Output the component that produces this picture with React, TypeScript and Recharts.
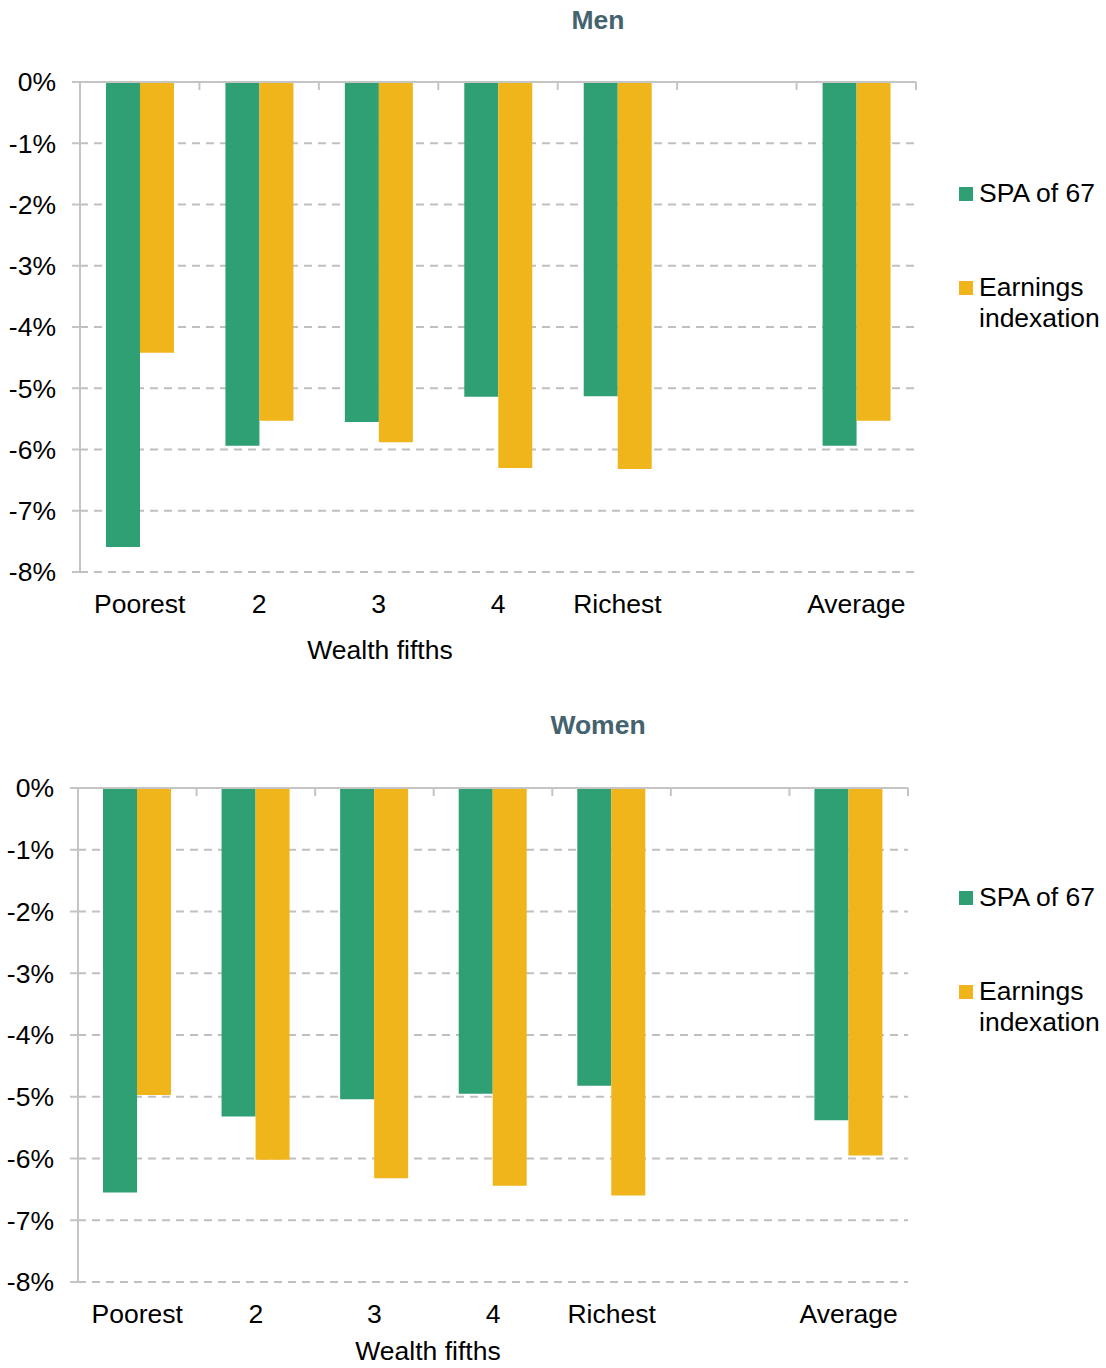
import React from "react";
import { BarChart, Bar, XAxis, YAxis, CartesianGrid, Legend } from "recharts";

const categories = ["Poorest", "2", "3", "4", "Richest", "", "Average"];
const menSpa = [-7.59, -5.94, -5.55, -5.14, -5.13, null, -5.94];
const menEarnings = [-4.42, -5.53, -5.88, -6.3, -6.32, null, -5.53];
const womenSpa = [-6.55, -5.32, -5.04, -4.95, -4.82, null, -5.38];
const womenEarnings = [-4.97, -6.02, -6.32, -6.44, -6.6, null, -5.95];
const yTicks = [0, -1, -2, -3, -4, -5, -6, -7, -8];
const seriesNames = ["SPA of 67", "Earnings indexation"];
const xAxisTitle = "Wealth fifths";

const GREEN = "#2f9f74";
const ORANGE = "#f0b51a";
const AXIS = "#c4c4c4";
const GRID = "#c0c0c0";
const TITLE = "#44636f";
const FONT = "'Liberation Sans', Arial, Helvetica, sans-serif";
const FS = 26.5;

const buildRows = (spa: (number | null)[], earn: (number | null)[]) =>
  categories.map((c, i) => ({ cat: c, spa: spa[i], earn: earn[i] }));

const TopTick = (props: any) => {
  const { x, y, payload, index, visibleTicksCount } = props;
  const off = payload && typeof payload.offset === "number" ? payload.offset : 59.5;
  const last = index === (visibleTicksCount ?? 7) - 1;
  return (
    <g>
      <line x1={x - off} x2={x - off} y1={y} y2={y + 8} stroke={AXIS} strokeWidth={2} />
      {last && <line x1={x + off} x2={x + off} y1={y} y2={y + 8} stroke={AXIS} strokeWidth={2} />}
    </g>
  );
};

const LegendContent = (props: any) => {
  const items = [...(props.payload || [])].sort(
    (a: any, b: any) => seriesNames.indexOf(a.value) - seriesNames.indexOf(b.value)
  );
  return (
    <div style={{ fontFamily: FONT, fontSize: FS, color: "#000" }}>
      {items.map((p: any, i: number) => (
        <div
          key={i}
          style={{ display: "flex", alignItems: "flex-start", marginTop: i === 0 ? 0 : 63, lineHeight: "31px" }}
        >
          <div style={{ width: 14, height: 14, background: p.color, marginTop: 9, marginRight: 6, flex: "none" }} />
          <div style={{ width: 126 }}>{p.value}</div>
        </div>
      ))}
    </div>
  );
};

type PanelProps = {
  top: number;
  title: string;
  titleTop: number;
  spa: (number | null)[];
  earn: (number | null)[];
  left: number;
  right: number;
  plotHeight: number;
  legendTop: number;
  axisTitleX: number;
  axisTitleTop: number;
  height: number;
};

const Panel = (p: PanelProps) => {
  const data = buildRows(p.spa, p.earn);
  const xAxisHeight = 60;
  const topAxisHeight = 1;
  const plotTop = 82;
  const bottomMargin = p.height - plotTop - p.plotHeight - xAxisHeight;
  return (
    <div style={{ position: "absolute", left: 0, top: p.top, width: 1106, height: p.height }}>
      <div
        style={{
          position: "absolute",
          left: 0,
          width: 1196,
          top: p.titleTop,
          textAlign: "center",
          fontFamily: FONT,
          fontWeight: "bold",
          fontSize: FS,
          lineHeight: "31px",
          color: TITLE,
          zIndex: 2,
        }}
      >
        {p.title}
      </div>
      <BarChart
        width={1106}
        height={p.height}
        data={data}
        margin={{ top: plotTop - topAxisHeight, right: 1106 - p.right, left: 0, bottom: bottomMargin }}
        barGap={0}
        barSize={34}
        style={{ fontFamily: FONT }}
      >
        <CartesianGrid vertical={false} stroke={GRID} strokeWidth={2} strokeDasharray="8 6" />
        <YAxis
          width={p.left}
          domain={[-8, 0]}
          ticks={yTicks}
          interval={0}
          allowDataOverflow
          tickFormatter={(v: number) => `${v}%`}
          tick={{ fill: "#000", fontSize: FS, fontFamily: FONT }}
          axisLine={{ stroke: AXIS, strokeWidth: 2 }}
          tickLine={{ stroke: AXIS, strokeWidth: 2 }}
          tickSize={8}
          tickMargin={16}
        />
        <XAxis
          dataKey="cat"
          interval={0}
          axisLine={false}
          tickLine={false}
          tickSize={0}
          tickMargin={22}
          height={xAxisHeight}
          tick={{ fill: "#000", fontSize: FS, fontFamily: FONT }}
        />
        <XAxis
          xAxisId="top"
          dataKey="cat"
          orientation="top"
          interval={0}
          height={topAxisHeight}
          tickSize={0}
          tickMargin={0}
          tickLine={false}
          axisLine={{ stroke: AXIS, strokeWidth: 2 }}
          tick={<TopTick />}
        />
        <Legend
          layout="vertical"
          align="center"
          verticalAlign="middle"
          itemSorter={null as any}
          wrapperStyle={{ position: "absolute", left: 959, top: p.legendTop, width: 147 }}
          content={<LegendContent />}
        />
        <Bar dataKey="spa" name={seriesNames[0]} fill={GREEN} isAnimationActive={false} />
        <Bar dataKey="earn" name={seriesNames[1]} fill={ORANGE} isAnimationActive={false} />
      </BarChart>
      <div
        style={{
          position: "absolute",
          left: p.axisTitleX - 150,
          width: 300,
          top: p.axisTitleTop,
          textAlign: "center",
          fontFamily: FONT,
          fontSize: FS,
          lineHeight: "24px",
          color: "#000",
        }}
      >
        {xAxisTitle}
      </div>
    </div>
  );
};

export default function App() {
  return (
    <div style={{ position: "absolute", left: 0, top: 0, width: 1106, height: 1368, background: "#fff", overflow: "hidden" }}>
      <Panel
        top={0}
        title="Men"
        titleTop={5}
        spa={menSpa}
        earn={menEarnings}
        left={80}
        right={916}
        plotHeight={490}
        legendTop={178}
        axisTitleX={380}
        axisTitleTop={638}
        height={690}
      />
      <Panel
        top={706}
        title="Women"
        titleTop={4}
        spa={womenSpa}
        earn={womenEarnings}
        left={78}
        right={908}
        plotHeight={494}
        legendTop={176}
        axisTitleX={428}
        axisTitleTop={633}
        height={662}
      />
    </div>
  );
}
